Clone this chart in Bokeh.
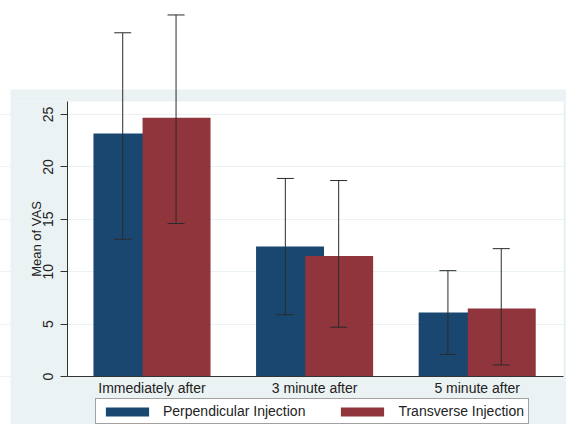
from bokeh.plotting import figure
from bokeh.models import (Range1d, FixedTicker, Legend, LegendItem, Whisker, TeeHead,
                          ColumnDataSource, BoxAnnotation)
from bokeh.embed import file_html
from bokeh.resources import INLINE

# ---- data ----
categories = ["Immediately after", "3 minute after", "5 minute after"]
perp_mean = [23.2, 12.4, 6.1]
perp_lower = [13.1, 5.9, 2.1]
perp_upper = [32.8, 18.9, 10.1]
trans_mean = [24.7, 11.5, 6.5]
trans_lower = [14.6, 4.7, 1.1]
trans_upper = [34.5, 18.7, 12.2]
series_names = ["Perpendicular Injection", "Transverse Injection"]
y_ticks = [0, 5, 10, 15, 20, 25]
y_label = "Mean of VAS"

# ---- style ----
BLUE = "#1A476F"
RED = "#90353B"
BG = "#EAF2F3"
INK = "#222222"
FONT = "Liberation Sans"
PERP_OFF, TRANS_OFF, BAR_W = -0.151, 0.151, 0.418
PERP_ERR_OFF, TRANS_ERR_OFF = -0.18, 0.148
W, H = 566, 424

gx = list(range(len(categories)))

p = figure(width=W, height=H, output_backend="svg", toolbar_location=None,
           title=None, x_range=Range1d(-0.9317, 2.5492), y_range=Range1d(-4.58, 35.88),
           min_border=0)
p.border_fill_color = "white"
p.background_fill_color = "white"
p.outline_line_color = None


def screen_box(left, right, top, bottom, color):
    # top/bottom given from the top edge; Bokeh screen y counts from the bottom
    return BoxAnnotation(left=left, right=right, top=H - top, bottom=H - bottom,
                         left_units="screen", right_units="screen",
                         top_units="screen", bottom_units="screen",
                         fill_color=color, fill_alpha=1, line_color=None,
                         level="underlay")

# light outer background around the white plot region
for box in [(10, 566, 89, 101), (10, 566, 376, 424), (10, 67, 101, 376), (563, 566, 101, 376)]:
    p.add_layout(screen_box(*box, BG))

src_p = ColumnDataSource(dict(x=[g + PERP_OFF for g in gx], top=perp_mean,
                              ex=[g + PERP_ERR_OFF for g in gx],
                              lo=perp_lower, up=perp_upper))
src_t = ColumnDataSource(dict(x=[g + TRANS_OFF for g in gx], top=trans_mean,
                              ex=[g + TRANS_ERR_OFF for g in gx],
                              lo=trans_lower, up=trans_upper))

r_p = p.vbar(x="x", top="top", bottom=0, width=BAR_W, source=src_p,
             fill_color=BLUE, line_color=None)
r_t = p.vbar(x="x", top="top", bottom=0, width=BAR_W, source=src_t,
             fill_color=RED, line_color=None)

for s in (src_p, src_t):
    w = Whisker(source=s, base="ex", lower="lo", upper="up", level="overlay",
                line_color="#2b2b2b", line_width=1,
                upper_head=TeeHead(size=17, line_color="#2b2b2b", line_width=1),
                lower_head=TeeHead(size=17, line_color="#2b2b2b", line_width=1))
    p.add_layout(w)

# grid
p.xgrid.grid_line_color = None
p.ygrid.grid_line_color = BG
p.ygrid.grid_line_width = 1

# x axis
xa = p.xaxis[0]
xa.fixed_location = 0
xa.bounds = (-0.5197, 2.5308)
xa.ticker = FixedTicker(ticks=gx)
xa.major_label_overrides = {g: c for g, c in zip(gx, categories)}
xa.major_tick_line_color = None
xa.minor_tick_line_color = None
xa.axis_line_color = "#333333"
xa.major_label_standoff = -3
xa.major_label_text_font = FONT
xa.major_label_text_font_size = "14px"
xa.major_label_text_color = INK

# y axis
ya = p.yaxis[0]
ya.fixed_location = -0.5197
ya.ticker = FixedTicker(ticks=y_ticks)
ya.bounds = (0, 26.24)
ya.minor_tick_line_color = None
ya.major_tick_out = 7
ya.major_tick_in = 0
ya.major_tick_line_color = "#333333"
ya.axis_line_color = "#333333"
ya.major_label_orientation = "vertical"
ya.major_label_standoff = 7
ya.major_label_text_font = FONT
ya.major_label_text_font_size = "14px"
ya.major_label_text_color = INK
ya.axis_label = y_label
ya.axis_label_standoff = -3
ya.axis_label_text_font = FONT
ya.axis_label_text_font_size = "13px"
ya.axis_label_text_font_style = "normal"
ya.axis_label_text_color = INK

legend = Legend(items=[LegendItem(label=series_names[0], renderers=[r_p]),
                       LegendItem(label=series_names[1], renderers=[r_t])],
                orientation="horizontal", location=(95, 0),
                glyph_width=54, glyph_height=11, label_standoff=9, spacing=30,
                padding=4, margin=0, label_height=12,
                border_line_color="#444444", border_line_width=1,
                background_fill_color="white", background_fill_alpha=1,
                label_text_font=FONT, label_text_font_size="14px",
                label_text_color=INK)
p.add_layout(legend)

open("out.html", "w").write(file_html(p, INLINE))
